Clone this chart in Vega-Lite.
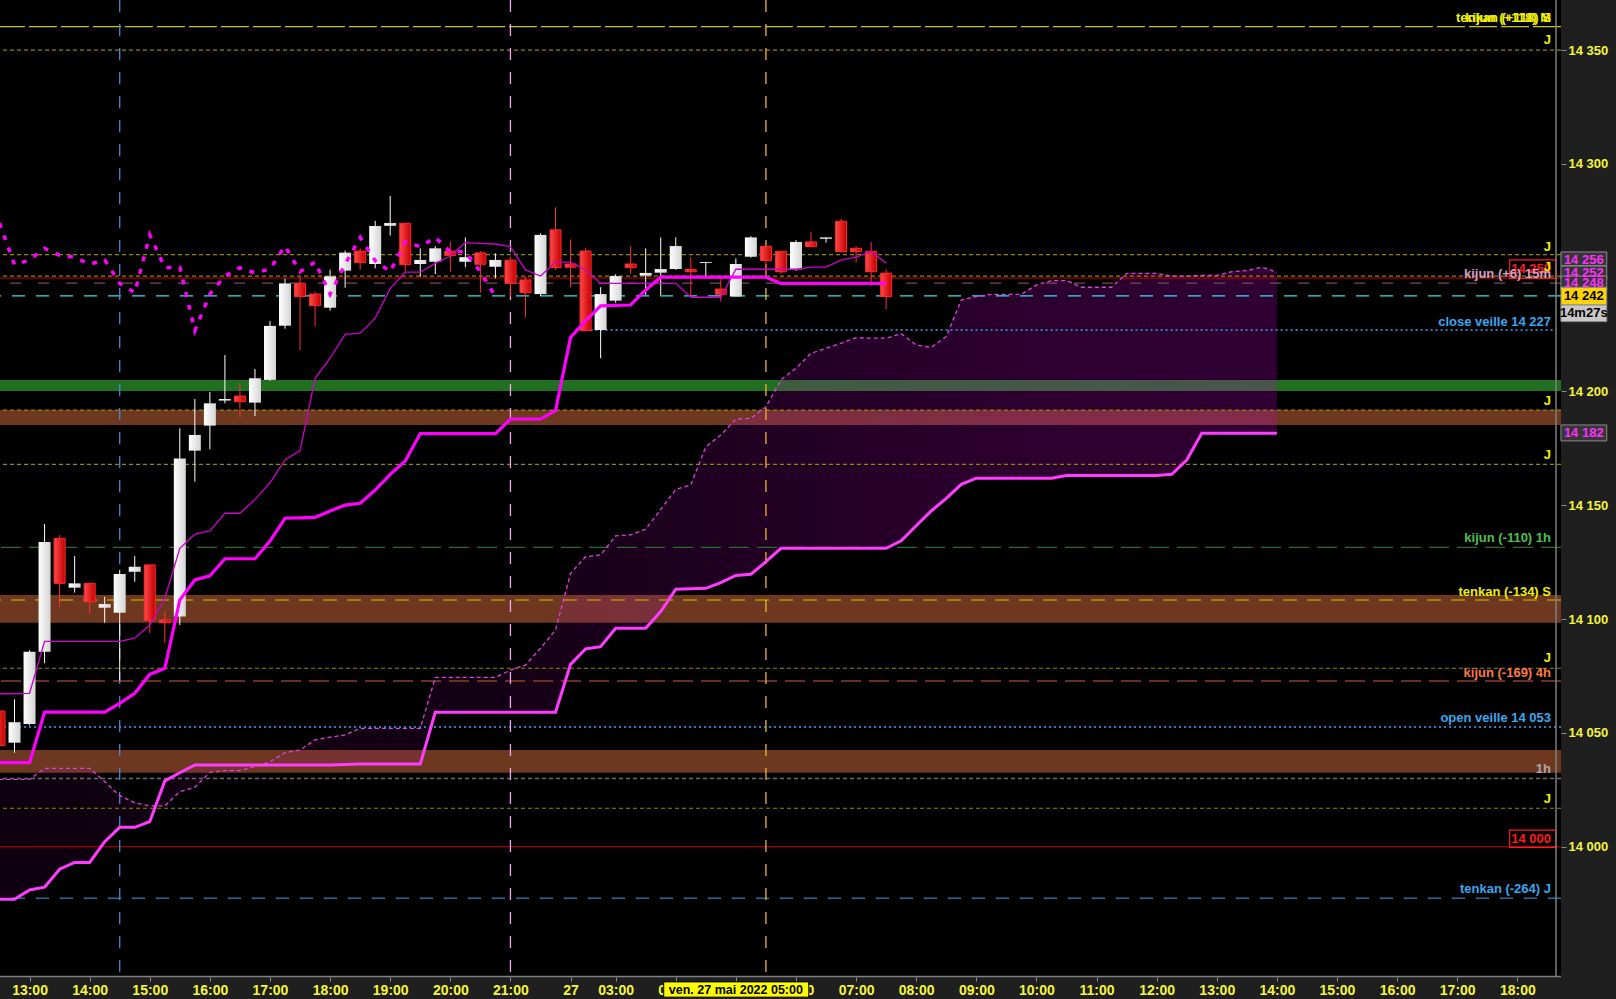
{
"$schema":"https://vega.github.io/schema/vega-lite/v6.json",
"width":1561,"height":977,
"autosize":{"type":"none"},
"padding":{"left":0,"top":0,"right":55,"bottom":22},
"background":"#1f1f1f",
"config":{
 "view":{"fill":"#000000","stroke":null},
 "axisX":{"labelColor":"#f5f53c","labelFont":"Liberation Sans Narrow, Arial Narrow, Liberation Sans","labelFontSize":14,"labelFontWeight":"bold","tickColor":"#8a8a8a","tickSize":4,"domain":false,"grid":false,"labelPadding":2,"labelOverlap":false,"labelFlush":false},
 "axisY":{"labelColor":"#f5f53c","labelFont":"Liberation Sans","labelFontSize":13,"labelFontWeight":"bold","tickColor":"#8a8a8a","tickSize":5,"domain":false,"grid":false,"labelPadding":2,"labelOverlap":false,"labelFlush":false}
},
"resolve":{"scale":{"color":"independent","strokeDash":"independent","strokeWidth":"independent"}},
"datasets":{
 "one":[{"t":"ven. 27 mai 2022 05:00"}],
 "bands":[{"lo":14200.2,"hi":14205.0,"k":"green"},{"lo":14185.3,"hi":14191.9,"k":"brown"},{"lo":14098.4,"hi":14110.6,"k":"brown"},{"lo":14032.5,"hi":14042.5,"k":"brown"}],
 "hlines":[
  {"v":14360.3,"k":"top"},{"v":14350.0,"k":"jour"},{"v":14260.1,"k":"jour"},{"v":14250.7,"k":"jour"},{"v":14249.8,"k":"red"},
  {"v":14247.6,"k":"k15"},{"v":14242.0,"k":"cyan"},{"v":14191.8,"k":"jour"},{"v":14168.0,"k":"jour"},{"v":14131.5,"k":"k1h"},
  {"v":14108.4,"k":"tS"},{"v":14078.4,"k":"jour"},{"v":14072.8,"k":"k4h"},{"v":14052.6,"k":"veille"},{"v":14030.0,"k":"grey"},
  {"v":14016.9,"k":"jour"},{"v":14000.0,"k":"red"},{"v":13977.3,"k":"tJ"}],
 "closev":[{"i":37,"v":14227.0}],
 "vlines":[{"i":6,"k":"b"},{"i":32,"k":"p"},{"i":49,"k":"o"}],
 "cloud":[
  {"i":-2,"a":14029.6,"b":13976.9},{"i":-1,"a":14029.6,"b":13976.9},{"i":0,"a":14029.6,"b":13981.0},{"i":1,"a":14034.4,"b":13982.2},
  {"i":2,"a":14034.4,"b":13990.1},{"i":3,"a":14034.4,"b":13993.1},{"i":4,"a":14034.4,"b":13993.1},{"i":5,"a":14028.6,"b":14002.2},
  {"i":6,"a":14022.4,"b":14008.5},{"i":7,"a":14019.3,"b":14008.5},{"i":8,"a":14017.9,"b":14011.0},{"i":9,"a":14017.9,"b":14028.9},
  {"i":10,"a":14024.2,"b":14032.5},{"i":11,"a":14026.1,"b":14035.9},{"i":12,"a":14032.7,"b":14035.9},{"i":13,"a":14033.4,"b":14035.9},
  {"i":14,"a":14033.4,"b":14035.9},{"i":15,"a":14035.1,"b":14035.9},{"i":16,"a":14037.3,"b":14035.9},{"i":17,"a":14041.3,"b":14035.9},
  {"i":18,"a":14042.5,"b":14035.9},{"i":19,"a":14046.9,"b":14035.9},{"i":20,"a":14048.1,"b":14035.9},{"i":21,"a":14049.1,"b":14036.1},
  {"i":22,"a":14052.0,"b":14036.3},{"i":23,"a":14052.0,"b":14036.3},{"i":24,"a":14052.0,"b":14036.3},{"i":25,"a":14052.0,"b":14036.3},
  {"i":26,"a":14052.0,"b":14036.3},{"i":27,"a":14074.4,"b":14059.1},{"i":28,"a":14074.4,"b":14059.1},{"i":29,"a":14074.4,"b":14059.1},
  {"i":30,"a":14074.4,"b":14059.1},{"i":31,"a":14074.4,"b":14059.1},{"i":32,"a":14077.6,"b":14059.1},{"i":33,"a":14079.8,"b":14059.1},
  {"i":34,"a":14087.2,"b":14059.1},{"i":35,"a":14095.2,"b":14059.1},{"i":36,"a":14120.1,"b":14080.1},{"i":37,"a":14127.4,"b":14086.9},
  {"i":38,"a":14128.2,"b":14087.9},{"i":39,"a":14136.6,"b":14096.0},{"i":40,"a":14137.0,"b":14096.0},{"i":41,"a":14139.5,"b":14096.0},
  {"i":42,"a":14148.2,"b":14103.3},{"i":43,"a":14157.0,"b":14113.1},{"i":44,"a":14158.9,"b":14113.3},{"i":45,"a":14175.7,"b":14113.5},
  {"i":46,"a":14180.9,"b":14116.0},{"i":47,"a":14187.9,"b":14119.2},{"i":48,"a":14188.2,"b":14119.7},{"i":49,"a":14193.3,"b":14125.2},
  {"i":50,"a":14205.1,"b":14131.1},{"i":51,"a":14210.2,"b":14131.1},{"i":52,"a":14216.8,"b":14131.1},{"i":53,"a":14219.0,"b":14131.1},
  {"i":54,"a":14221.2,"b":14131.1},{"i":55,"a":14223.6,"b":14131.1},{"i":56,"a":14223.4,"b":14131.1},{"i":57,"a":14223.4,"b":14131.1},
  {"i":58,"a":14225.4,"b":14134.4},{"i":59,"a":14220.4,"b":14141.0},{"i":60,"a":14219.4,"b":14147.5},{"i":61,"a":14224.1,"b":14153.0},
  {"i":62,"a":14240.2,"b":14159.2},{"i":63,"a":14241.7,"b":14161.9},{"i":64,"a":14242.7,"b":14161.9},{"i":65,"a":14242.7,"b":14161.9},
  {"i":66,"a":14242.7,"b":14161.9},{"i":67,"a":14246.8,"b":14161.9},{"i":68,"a":14248.7,"b":14161.9},{"i":69,"a":14248.7,"b":14163.1},
  {"i":70,"a":14245.8,"b":14163.1},{"i":71,"a":14245.8,"b":14163.1},{"i":72,"a":14245.8,"b":14163.1},{"i":73,"a":14251.9,"b":14163.1},
  {"i":74,"a":14251.9,"b":14163.1},{"i":75,"a":14251.9,"b":14163.1},{"i":76,"a":14250.7,"b":14163.6},{"i":77,"a":14250.7,"b":14169.9},
  {"i":78,"a":14251.0,"b":14181.6},{"i":79,"a":14251.0,"b":14181.6},{"i":80,"a":14252.6,"b":14181.6},{"i":81,"a":14253.1,"b":14181.6},
  {"i":82,"a":14254.6,"b":14181.6},{"i":83,"a":14252.4,"b":14181.6}],
 "kijun":[
  {"i":-2,"v":14036.9},{"i":-1,"v":14036.9},{"i":0,"v":14036.9},{"i":1,"v":14059.1},{"i":2,"v":14059.1},{"i":3,"v":14059.1},{"i":4,"v":14059.1},
  {"i":5,"v":14059.1},{"i":6,"v":14063.0},{"i":7,"v":14067.4},{"i":8,"v":14075.7},{"i":9,"v":14078.4},{"i":10,"v":14108.4},{"i":11,"v":14117.2},
  {"i":12,"v":14119.0},{"i":13,"v":14126.5},{"i":14,"v":14126.5},{"i":15,"v":14126.5},{"i":16,"v":14134.3},{"i":17,"v":14144.3},{"i":18,"v":14144.5},
  {"i":19,"v":14144.7},{"i":20,"v":14147.5},{"i":21,"v":14150.1},{"i":22,"v":14150.9},{"i":23,"v":14156.7},{"i":24,"v":14163.6},{"i":25,"v":14169.5},
  {"i":26,"v":14181.5},{"i":27,"v":14181.5},{"i":28,"v":14181.5},{"i":29,"v":14181.5},{"i":30,"v":14181.5},{"i":31,"v":14181.5},{"i":32,"v":14187.9},
  {"i":33,"v":14187.9},{"i":34,"v":14187.9},{"i":35,"v":14191.6},{"i":36,"v":14223.8},{"i":37,"v":14231.0},{"i":38,"v":14237.6},{"i":39,"v":14237.8},
  {"i":40,"v":14238.0},{"i":41,"v":14244.6},{"i":42,"v":14250.2},{"i":43,"v":14250.2},{"i":44,"v":14250.2},{"i":45,"v":14250.2},{"i":46,"v":14250.2},
  {"i":47,"v":14250.2},{"i":48,"v":14250.2},{"i":49,"v":14250.2},{"i":50,"v":14247.5},{"i":51,"v":14247.5},{"i":52,"v":14247.5},{"i":53,"v":14247.5},
  {"i":54,"v":14247.5},{"i":55,"v":14247.5},{"i":56,"v":14247.5},{"i":57,"v":14247.5}],
 "tenkan":[
  {"i":-2,"v":14067.2},{"i":-1,"v":14067.2},{"i":0,"v":14067.4},{"i":1,"v":14090.2},{"i":2,"v":14090.2},{"i":3,"v":14090.2},{"i":4,"v":14090.2},
  {"i":5,"v":14090.2},{"i":6,"v":14090.2},{"i":7,"v":14091.6},{"i":8,"v":14097.4},{"i":9,"v":14109.1},{"i":10,"v":14131.1},{"i":11,"v":14137.3},
  {"i":12,"v":14138.7},{"i":13,"v":14146.5},{"i":14,"v":14146.5},{"i":15,"v":14152.6},{"i":16,"v":14159.9},{"i":17,"v":14169.9},{"i":18,"v":14174.0},
  {"i":19,"v":14205.8},{"i":20,"v":14214.6},{"i":21,"v":14225.1},{"i":22,"v":14225.6},{"i":23,"v":14232.2},{"i":24,"v":14245.3},{"i":25,"v":14252.4},
  {"i":26,"v":14252.4},{"i":27,"v":14256.3},{"i":28,"v":14259.5},{"i":29,"v":14265.4},{"i":30,"v":14265.1},{"i":31,"v":14264.8},{"i":32,"v":14263.6},
  {"i":33,"v":14253.4},{"i":34,"v":14250.7},{"i":35,"v":14256.8},{"i":36,"v":14256.8},{"i":37,"v":14253.4},{"i":38,"v":14247.5},{"i":39,"v":14247.5},
  {"i":40,"v":14247.5},{"i":41,"v":14247.5},{"i":42,"v":14247.5},{"i":43,"v":14247.5},{"i":44,"v":14241.4},{"i":45,"v":14241.4},{"i":46,"v":14241.4},
  {"i":47,"v":14253.7},{"i":48,"v":14253.7},{"i":49,"v":14253.7},{"i":50,"v":14253.7},{"i":51,"v":14253.7},{"i":52,"v":14254.6},{"i":53,"v":14254.6},
  {"i":54,"v":14257.7},{"i":55,"v":14259.0},{"i":56,"v":14261.5},{"i":57,"v":14256.4}],
 "chikou":[
  {"i":-2,"v":14274.0},{"i":-1,"v":14255.7},{"i":0,"v":14257.8},{"i":1,"v":14262.9},{"i":2,"v":14259.8},{"i":3,"v":14259.0},{"i":4,"v":14255.9},
  {"i":5,"v":14257.8},{"i":6,"v":14247.5},{"i":7,"v":14243.4},{"i":8,"v":14268.8},{"i":9,"v":14254.4},{"i":10,"v":14254.6},{"i":11,"v":14226.7},
  {"i":12,"v":14242.8},{"i":13,"v":14250.7},{"i":14,"v":14254.4},{"i":15,"v":14252.1},{"i":16,"v":14253.8},{"i":17,"v":14263.9},{"i":18,"v":14252.6},
  {"i":19,"v":14256.9},{"i":20,"v":14242.7},{"i":21,"v":14256.0},{"i":22,"v":14267.7},{"i":23,"v":14257.5},{"i":24,"v":14252.6},{"i":25,"v":14265.7},
  {"i":26,"v":14263.6},{"i":27,"v":14267.7},{"i":28,"v":14261.4},{"i":29,"v":14261.4},{"i":30,"v":14252.6},{"i":31,"v":14241.7}],
 "candles":[
  {"i":-2,"o":14059.6,"h":14061.0,"l":14043.0,"c":14044.4},
  {"i":-1,"o":14045.7,"h":14064.8,"l":14041.3,"c":14054.7},
  {"i":0,"o":14053.9,"h":14086.3,"l":14053.3,"c":14085.7},
  {"i":1,"o":14085.7,"h":14141.8,"l":14080.6,"c":14133.9},
  {"i":2,"o":14135.5,"h":14136.9,"l":14105.4,"c":14115.7},
  {"i":3,"o":14113.8,"h":14127.7,"l":14111.6,"c":14115.7},
  {"i":4,"o":14115.7,"h":14116.0,"l":14102.5,"c":14107.6},
  {"i":5,"o":14105.0,"h":14109.8,"l":14098.4,"c":14106.6},
  {"i":6,"o":14102.8,"h":14121.6,"l":14073.0,"c":14119.8},
  {"i":7,"o":14120.8,"h":14127.7,"l":14116.4,"c":14123.0},
  {"i":8,"o":14123.8,"h":14124.0,"l":14093.8,"c":14099.3},
  {"i":9,"o":14099.6,"h":14103.6,"l":14089.6,"c":14098.4},
  {"i":10,"o":14101.1,"h":14183.8,"l":14097.4,"c":14170.6},
  {"i":11,"o":14174.0,"h":14196.7,"l":14160.4,"c":14180.9},
  {"i":12,"o":14185.0,"h":14199.8,"l":14174.6,"c":14194.8},
  {"i":13,"o":14196.0,"h":14216.0,"l":14194.8,"c":14196.7},
  {"i":14,"o":14198.0,"h":14203.6,"l":14188.7,"c":14195.5},
  {"i":15,"o":14195.1,"h":14209.9,"l":14189.2,"c":14205.8},
  {"i":16,"o":14205.1,"h":14231.0,"l":14204.7,"c":14228.8},
  {"i":17,"o":14228.9,"h":14249.6,"l":14227.6,"c":14247.5},
  {"i":18,"o":14247.5,"h":14250.4,"l":14218.2,"c":14241.7},
  {"i":19,"o":14242.8,"h":14243.9,"l":14228.5,"c":14237.7},
  {"i":20,"o":14236.8,"h":14253.5,"l":14235.5,"c":14250.6},
  {"i":21,"o":14253.1,"h":14261.9,"l":14245.6,"c":14261.0},
  {"i":22,"o":14261.7,"h":14262.9,"l":14253.4,"c":14256.6},
  {"i":23,"o":14256.0,"h":14274.9,"l":14254.1,"c":14272.7},
  {"i":24,"o":14272.8,"h":14285.9,"l":14268.5,"c":14274.0},
  {"i":25,"o":14273.9,"h":14274.0,"l":14252.6,"c":14255.7},
  {"i":26,"o":14256.0,"h":14262.9,"l":14250.4,"c":14257.8},
  {"i":27,"o":14257.0,"h":14263.9,"l":14251.6,"c":14262.9},
  {"i":28,"o":14261.7,"h":14265.8,"l":14252.6,"c":14259.8},
  {"i":29,"o":14257.0,"h":14267.7,"l":14254.6,"c":14259.0},
  {"i":30,"o":14260.9,"h":14261.7,"l":14243.4,"c":14255.9},
  {"i":31,"o":14254.8,"h":14260.7,"l":14249.7,"c":14257.8},
  {"i":32,"o":14257.7,"h":14259.2,"l":14241.7,"c":14247.5},
  {"i":33,"o":14249.0,"h":14250.4,"l":14232.6,"c":14243.4},
  {"i":34,"o":14242.8,"h":14269.5,"l":14242.0,"c":14268.8},
  {"i":35,"o":14271.0,"h":14280.9,"l":14253.4,"c":14254.4},
  {"i":36,"o":14256.0,"h":14266.8,"l":14245.8,"c":14254.6},
  {"i":37,"o":14261.7,"h":14262.9,"l":14226.7,"c":14226.7},
  {"i":38,"o":14227.0,"h":14245.8,"l":14214.6,"c":14242.8},
  {"i":39,"o":14239.9,"h":14251.5,"l":14239.0,"c":14250.7},
  {"i":40,"o":14256.0,"h":14263.9,"l":14251.6,"c":14254.4},
  {"i":41,"o":14250.9,"h":14262.9,"l":14242.4,"c":14252.1},
  {"i":42,"o":14252.2,"h":14267.7,"l":14242.4,"c":14253.8},
  {"i":43,"o":14253.8,"h":14267.7,"l":14253.4,"c":14263.9},
  {"i":44,"o":14253.6,"h":14259.0,"l":14241.7,"c":14252.6},
  {"i":45,"o":14256.5,"h":14256.9,"l":14250.4,"c":14256.9},
  {"i":46,"o":14245.0,"h":14249.7,"l":14239.5,"c":14242.7},
  {"i":47,"o":14241.7,"h":14258.5,"l":14241.7,"c":14256.0},
  {"i":48,"o":14259.2,"h":14268.2,"l":14258.8,"c":14267.7},
  {"i":49,"o":14263.8,"h":14263.8,"l":14251.9,"c":14257.5},
  {"i":50,"o":14261.6,"h":14261.6,"l":14251.6,"c":14252.6},
  {"i":51,"o":14253.6,"h":14266.5,"l":14253.0,"c":14265.7},
  {"i":52,"o":14265.7,"h":14270.1,"l":14263.6,"c":14263.6},
  {"i":53,"o":14267.1,"h":14267.7,"l":14265.4,"c":14267.7},
  {"i":54,"o":14274.8,"h":14275.8,"l":14261.4,"c":14261.4},
  {"i":55,"o":14262.9,"h":14263.9,"l":14256.6,"c":14261.4},
  {"i":56,"o":14261.6,"h":14265.7,"l":14246.4,"c":14252.6},
  {"i":57,"o":14252.0,"h":14253.7,"l":14236.1,"c":14241.7}],
 "labels":[
  {"t":"14 250","v":14253.9,"k":"red"},
  {"t":"14 000","v":14003.5,"k":"red"},
  {"t":"tenkan (+118) S","v":14364.0,"k":"yel"},
  {"t":"kijun (+118) M","v":14364.0,"k":"yel"},
  {"t":"J","v":14354.4,"k":"yel"},
  {"t":"J","v":14263.6,"k":"yel"},
  {"t":"J","v":14254.8,"k":"yel"},
  {"t":"kijun (+6) 15m","v":14251.6,"k":"pink"},
  {"t":"close veille 14 227","v":14230.7,"k":"blue"},
  {"t":"J","v":14195.8,"k":"yel"},
  {"t":"J","v":14172.0,"k":"yel"},
  {"t":"kijun (-110) 1h","v":14135.5,"k":"green"},
  {"t":"tenkan (-134) S","v":14112.0,"k":"yel"},
  {"t":"J","v":14082.8,"k":"yel"},
  {"t":"kijun (-169) 4h","v":14076.4,"k":"orange"},
  {"t":"open veille 14 053","v":14056.4,"k":"blue"},
  {"t":"1h","v":14034.0,"k":"grey"},
  {"t":"J","v":14021.0,"k":"yel"},
  {"t":"tenkan (-264) J","v":13981.3,"k":"blue"}],
 "redbox":[{"lo":14249.7,"hi":14257.8},{"lo":13999.7,"hi":14007.3}],
 "rbox":[
  {"lo":14255.3,"hi":14261.3,"tv":14257.8,"t":"14 256","k":"m"},
  {"lo":14249.4,"hi":14255.1,"tv":14252.2,"t":"14 252","k":"m"},
  {"lo":14244.6,"hi":14250.7,"tv":14247.7,"t":"14 248","k":"m"},
  {"lo":14238.0,"hi":14245.8,"tv":14241.9,"t":"14 242","k":"y"},
  {"lo":14230.7,"hi":14238.0,"tv":14234.5,"t":"14m27s","k":"g"},
  {"lo":14178.3,"hi":14185.3,"tv":14181.8,"t":"14 182","k":"m"}]
},
"layer":[
 {"data":{"name":"bands"},"mark":{"type":"rect"},
  "encoding":{
   "y":{"field":"lo","type":"quantitative","scale":{"domain":[13942.75,14372.0],"nice":false,"zero":false},"title":null,
        "axis":{"orient":"right","title":null,"values":[14000,14050,14100,14150,14200,14300,14350],"labelExpr":"replace(format(datum.value, ',d'), ',', ' ')"}},
   "y2":{"field":"hi"},
   "color":{"field":"k","type":"nominal","scale":{"domain":["green","brown"],"range":["#217021","#6e3820"]},"legend":null}}},
 {"data":{"name":"cloud"},
  "mark":{"type":"area","clip":true,"color":{"gradient":"linear","x1":0,"y1":0,"x2":1,"y2":0,"stops":[{"offset":0,"color":"rgba(200,0,210,0.07)"},{"offset":0.4,"color":"rgba(200,0,210,0.1)"},{"offset":0.6,"color":"rgba(200,0,210,0.17)"},{"offset":0.8,"color":"rgba(200,0,210,0.22)"},{"offset":1,"color":"rgba(200,0,210,0.24)"}]}},
  "encoding":{
   "x":{"field":"i","type":"quantitative","scale":{"domain":[-1.633,101.573],"nice":false,"zero":false},"title":null,
        "axis":{"title":null,"values":[0,4,8,12,16,20,24,28,32,36,39,43,47,51,55,59,63,67,71,75,79,83,87,91,95,99],
        "labelExpr":"datum.value==0?'13:00':datum.value==4?'14:00':datum.value==8?'15:00':datum.value==12?'16:00':datum.value==16?'17:00':datum.value==20?'18:00':datum.value==24?'19:00':datum.value==28?'20:00':datum.value==32?'21:00':datum.value==36?'27':datum.value==39?'03:00':datum.value==43?'04:00':datum.value==47?'05:00':datum.value==51?'06:00':datum.value==55?'07:00':datum.value==59?'08:00':datum.value==63?'09:00':datum.value==67?'10:00':datum.value==71?'11:00':datum.value==75?'12:00':datum.value==79?'13:00':datum.value==83?'14:00':datum.value==87?'15:00':datum.value==91?'16:00':datum.value==95?'17:00':datum.value==99?'18:00':''"}},
   "y":{"field":"a","type":"quantitative","scale":{"domain":[13942.75,14372.0],"nice":false,"zero":false},"title":null},
   "y2":{"field":"b"}}},
 {"data":{"name":"hlines"},"mark":{"type":"rule"},
  "encoding":{
   "y":{"field":"v","type":"quantitative","scale":{"domain":[13942.75,14372.0],"nice":false,"zero":false},"title":null},
   "color":{"field":"k","type":"nominal","legend":null,"scale":{"domain":["jour","top","red","k15","cyan","k1h","tS","k4h","veille","grey","tJ"],"range":["#8c8c00","#c8c800","#a00000","#7a4866","#3ee0f0","#2f6a2f","#b09400","#8a4028","#30a8ff","#6e6e6e","#1f6e9e"]}},
   "strokeDash":{"field":"k","type":"nominal","legend":null,"scale":{"domain":["jour","top","red","k15","cyan","k1h","tS","k4h","veille","grey","tJ"],"range":[[4,3],[28,4],[10,0],[11,17],[13,11],[20,8],[14,10],[20,8],[2,3],[4,3],[13,11]]}},
   "strokeWidth":{"field":"k","type":"nominal","legend":null,"scale":{"domain":["jour","top","red","k15","cyan","k1h","tS","k4h","veille","grey","tJ"],"range":[1.2,1.5,2,1.5,1.5,1.5,1.5,1.5,1.5,1.2,1.5]}}}},
 {"data":{"name":"closev"},"mark":{"type":"rule","color":"#30a8ff","strokeDash":[2,3],"strokeWidth":1.5},
  "encoding":{
   "x":{"field":"i","type":"quantitative","scale":{"domain":[-1.633,101.573],"nice":false,"zero":false},"title":null},
   "x2":{"datum":101.57},
   "y":{"field":"v","type":"quantitative","scale":{"domain":[13942.75,14372.0],"nice":false,"zero":false},"title":null}}},
 {"data":{"name":"vlines"},"mark":{"type":"rule","strokeDash":[12,12],"strokeWidth":1.3},
  "encoding":{
   "x":{"field":"i","type":"quantitative","scale":{"domain":[-1.633,101.573],"nice":false,"zero":false},"title":null},
   "color":{"field":"k","type":"nominal","legend":null,"scale":{"domain":["b","p","o"],"range":["#4a88d8","#f2a8f0","#f0b428"]}}}},
 {"data":{"name":"cloud"},"mark":{"type":"line","clip":true,"color":"#e040e0","strokeWidth":1.3,"strokeDash":[4,3]},
  "encoding":{
   "x":{"field":"i","type":"quantitative","scale":{"domain":[-1.633,101.573],"nice":false,"zero":false},"title":null},
   "y":{"field":"a","type":"quantitative","scale":{"domain":[13942.75,14372.0],"nice":false,"zero":false},"title":null}}},
 {"data":{"name":"cloud"},"mark":{"type":"line","clip":true,"color":"#ff3cff","strokeWidth":3},
  "encoding":{
   "x":{"field":"i","type":"quantitative","scale":{"domain":[-1.633,101.573],"nice":false,"zero":false},"title":null},
   "y":{"field":"b","type":"quantitative","scale":{"domain":[13942.75,14372.0],"nice":false,"zero":false},"title":null}}},
 {"data":{"name":"candles"},"transform":[{"filter":"datum.c >= datum.o"}],"mark":{"type":"rule","clip":true,"color":"#ffffff","strokeWidth":1},
  "encoding":{
   "x":{"field":"i","type":"quantitative","scale":{"domain":[-1.633,101.573],"nice":false,"zero":false},"title":null},
   "y":{"field":"l","type":"quantitative","scale":{"domain":[13942.75,14372.0],"nice":false,"zero":false},"title":null},
   "y2":{"field":"h"}}},
 {"data":{"name":"candles"},"transform":[{"filter":"datum.c < datum.o"}],"mark":{"type":"rule","clip":true,"color":"#ff3030","strokeWidth":1},
  "encoding":{
   "x":{"field":"i","type":"quantitative","scale":{"domain":[-1.633,101.573],"nice":false,"zero":false},"title":null},
   "y":{"field":"l","type":"quantitative","scale":{"domain":[13942.75,14372.0],"nice":false,"zero":false},"title":null},
   "y2":{"field":"h"}}},
 {"data":{"name":"candles"},"transform":[{"filter":"datum.c >= datum.o"}],
  "mark":{"type":"bar","clip":true,"width":12,"color":{"gradient":"linear","x1":0,"y1":0,"x2":1,"y2":0,"stops":[{"offset":0,"color":"#ffffff"},{"offset":1,"color":"#d4d4d4"}]}},
  "encoding":{
   "x":{"field":"i","type":"quantitative","scale":{"domain":[-1.633,101.573],"nice":false,"zero":false},"title":null},
   "y":{"field":"o","type":"quantitative","scale":{"domain":[13942.75,14372.0],"nice":false,"zero":false},"title":null},
   "y2":{"field":"c"}}},
 {"data":{"name":"candles"},"transform":[{"filter":"datum.c < datum.o"}],
  "mark":{"type":"bar","clip":true,"width":11,"stroke":"#ff2a2a","strokeWidth":1,"color":{"gradient":"linear","x1":0,"y1":0,"x2":1,"y2":0,"stops":[{"offset":0,"color":"#ff4a4a"},{"offset":1,"color":"#c40000"}]}},
  "encoding":{
   "x":{"field":"i","type":"quantitative","scale":{"domain":[-1.633,101.573],"nice":false,"zero":false},"title":null},
   "y":{"field":"o","type":"quantitative","scale":{"domain":[13942.75,14372.0],"nice":false,"zero":false},"title":null},
   "y2":{"field":"c"}}},
 {"data":{"name":"tenkan"},"mark":{"type":"line","clip":true,"color":"#cc00cc","strokeWidth":1.3},
  "encoding":{
   "x":{"field":"i","type":"quantitative","scale":{"domain":[-1.633,101.573],"nice":false,"zero":false},"title":null},
   "y":{"field":"v","type":"quantitative","scale":{"domain":[13942.75,14372.0],"nice":false,"zero":false},"title":null}}},
 {"data":{"name":"kijun"},"mark":{"type":"line","clip":true,"color":"#ff00ff","strokeWidth":3.2},
  "encoding":{
   "x":{"field":"i","type":"quantitative","scale":{"domain":[-1.633,101.573],"nice":false,"zero":false},"title":null},
   "y":{"field":"v","type":"quantitative","scale":{"domain":[13942.75,14372.0],"nice":false,"zero":false},"title":null}}},
 {"data":{"name":"chikou"},"mark":{"type":"line","clip":true,"color":"#ff00ff","strokeWidth":3.5,"strokeDash":[5,8]},
  "encoding":{
   "x":{"field":"i","type":"quantitative","scale":{"domain":[-1.633,101.573],"nice":false,"zero":false},"title":null},
   "y":{"field":"v","type":"quantitative","scale":{"domain":[13942.75,14372.0],"nice":false,"zero":false},"title":null}}},
 {"data":{"name":"redbox"},"mark":{"type":"rect","fill":"#000000","fillOpacity":0,"stroke":"#ff1a1a","strokeWidth":1.2},
  "encoding":{
   "x":{"datum":98.49,"type":"quantitative","scale":{"domain":[-1.633,101.573],"nice":false,"zero":false},"title":null},
   "x2":{"datum":101.55},
   "y":{"field":"lo","type":"quantitative","scale":{"domain":[13942.75,14372.0],"nice":false,"zero":false},"title":null},
   "y2":{"field":"hi"}}},
 {"data":{"name":"labels"},"mark":{"type":"text","align":"right","baseline":"middle","font":"Liberation Sans","fontSize":13,"fontWeight":"bold"},
  "encoding":{
   "x":{"datum":101.24,"type":"quantitative","scale":{"domain":[-1.633,101.573],"nice":false,"zero":false},"title":null},
   "y":{"field":"v","type":"quantitative","scale":{"domain":[13942.75,14372.0],"nice":false,"zero":false},"title":null},
   "text":{"field":"t"},
   "color":{"field":"k","type":"nominal","legend":null,"scale":{"domain":["red","yel","pink","blue","green","orange","grey"],"range":["#ff1a1a","#f0f000","#dc9ec8","#38a8f0","#4cc04c","#ff7a40","#a8a8a8"]}}}},
 {"data":{"name":"one"},"mark":{"type":"rule","color":"#7f7f7f","strokeWidth":1.5},
  "encoding":{"x":{"datum":101.573,"type":"quantitative","scale":{"domain":[-1.633,101.573],"nice":false,"zero":false},"title":null}}},
 {"data":{"name":"one"},"mark":{"type":"rule","color":"#7f7f7f","strokeWidth":1.5},
  "encoding":{"y":{"datum":13943.0,"type":"quantitative","scale":{"domain":[13942.75,14372.0],"nice":false,"zero":false},"title":null}}},
 {"data":{"name":"rbox"},"mark":{"type":"rect","stroke":"#8a8a8a","strokeWidth":1},
  "encoding":{
   "x":{"datum":101.9,"type":"quantitative","scale":{"domain":[-1.633,101.573],"nice":false,"zero":false},"title":null},
   "x2":{"datum":104.95},
   "y":{"field":"lo","type":"quantitative","scale":{"domain":[13942.75,14372.0],"nice":false,"zero":false},"title":null},
   "y2":{"field":"hi"},
   "color":{"field":"k","type":"nominal","legend":null,"scale":{"domain":["m","y","g"],"range":["#363636","#ffd400","#c8c8c8"]}}}},
 {"data":{"name":"rbox"},"mark":{"type":"text","align":"center","baseline":"middle","font":"Liberation Sans","fontSize":13,"fontWeight":"bold"},
  "encoding":{
   "x":{"datum":103.42,"type":"quantitative","scale":{"domain":[-1.633,101.573],"nice":false,"zero":false},"title":null},
   "y":{"field":"tv","type":"quantitative","scale":{"domain":[13942.75,14372.0],"nice":false,"zero":false},"title":null},
   "text":{"field":"t"},
   "color":{"field":"k","type":"nominal","legend":null,"scale":{"domain":["m","y","g"],"range":["#ff30ff","#000000","#000000"]}}}},
 {"data":{"name":"one"},"mark":{"type":"rect","fill":"#ffff00","stroke":"#000000","strokeWidth":1},
  "encoding":{
   "x":{"datum":42.2,"type":"quantitative","scale":{"domain":[-1.633,101.573],"nice":false,"zero":false},"title":null},
   "x2":{"datum":51.85},
   "y":{"datum":13940.6,"type":"quantitative","scale":{"domain":[13942.75,14372.0],"nice":false,"zero":false},"title":null},
   "y2":{"datum":13933.9}}},
 {"data":{"name":"one"},"mark":{"type":"text","align":"center","baseline":"middle","font":"Liberation Sans","fontSize":12.5,"fontWeight":"bold","color":"#000000"},
  "encoding":{
   "x":{"datum":47.0,"type":"quantitative","scale":{"domain":[-1.633,101.573],"nice":false,"zero":false},"title":null},
   "y":{"datum":13937.2,"type":"quantitative","scale":{"domain":[13942.75,14372.0],"nice":false,"zero":false},"title":null},
   "text":{"field":"t"}}}
]
}
